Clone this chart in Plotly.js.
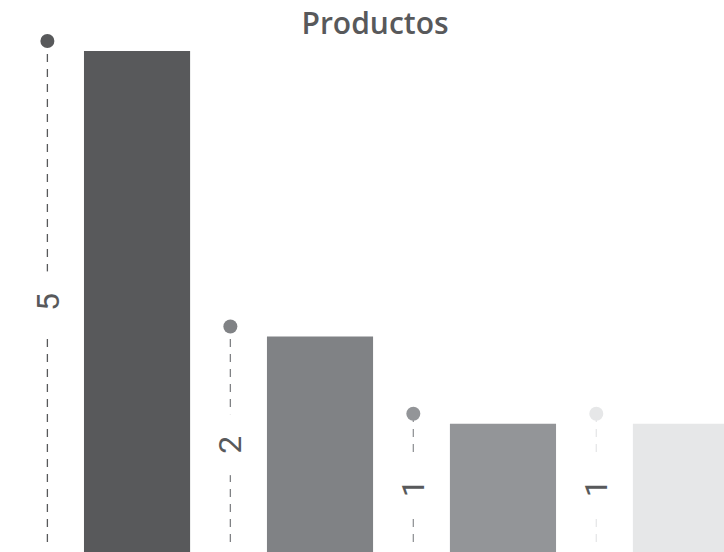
<!DOCTYPE html>
<html>
<head>
<meta charset="utf-8">
<script src="https://cdn.plot.ly/plotly-3.0.1.min.js"></script>
<style>html,body{margin:0;padding:0;background:#fff;}#chart{width:724px;height:552px;}</style>
</head>
<body>
<div id="chart"></div>
<script>
// Data
const categories = ["Producto 1", "Producto 2", "Producto 3", "Producto 4"];
const values = [5.0, 2.15, 1.28, 1.28];
const labels = ["5", "2", "1", "1"];
const colors = ["#58595b", "#808285", "#939598", "#e6e7e8"];

const idx = categories.map((c, i) => i);
const lineOffset = -0.49;

const traces = [];
traces.push({
  type: "bar",
  x: idx,
  y: values,
  width: 0.58,
  marker: { color: colors, line: { width: 0 } },
  hoverinfo: "skip",
  showlegend: false
});
categories.forEach((c, i) => {
  traces.push({
    type: "scatter",
    mode: "lines",
    x: [i + lineOffset, i + lineOffset],
    y: [0, values[i]],
    yaxis: "y2",
    line: { color: colors[i], width: 1.3, dash: "8px,7px" },
    hoverinfo: "skip",
    showlegend: false,
    cliponaxis: false
  });
});
traces.push({
  type: "scatter",
  mode: "markers",
  x: idx.map(i => i + lineOffset),
  y: values,
  yaxis: "y2",
  marker: { color: colors, size: 14 },
  hoverinfo: "skip",
  showlegend: false,
  cliponaxis: false
});

const annotations = categories.map((c, i) => ({
  x: i + lineOffset,
  y: values[i] / 2,
  xref: "x",
  yref: "y",
  text: "\u00a0" + labels[i] + "\u00a0",
  textangle: -90,
  showarrow: false,
  bgcolor: "#ffffff",
  borderpad: 13,
  font: { family: "Roboto, sans-serif", size: 32, weight: 400, color: "#58595b" }
}));

const layout = {
  width: 724,
  height: 552,
  margin: { l: 0, r: 0, t: 41, b: 0 },
  paper_bgcolor: "#ffffff",
  plot_bgcolor: "#ffffff",
  title: {
    text: "Productos",
    font: { family: "Open Sans, sans-serif", size: 30, weight: 600, color: "#58595b" },
    x: 0.518, xref: "container", xanchor: "center",
    y: 0.958, yref: "container", yanchor: "middle"
  },
  xaxis: { range: [-0.749, 3.208], showgrid: false, zeroline: false, showticklabels: false, ticks: "", fixedrange: true },
  yaxis: { range: [0, 5.1], showgrid: false, zeroline: false, showticklabels: false, ticks: "", fixedrange: true },
  yaxis2: { range: [-0.1, 5.0], overlaying: "y", showgrid: false, zeroline: false, showticklabels: false, ticks: "", fixedrange: true },
  annotations: annotations,
  showlegend: false
};

Plotly.newPlot("chart", traces, layout, { displayModeBar: false, staticPlot: true });
</script>
</body>
</html>
